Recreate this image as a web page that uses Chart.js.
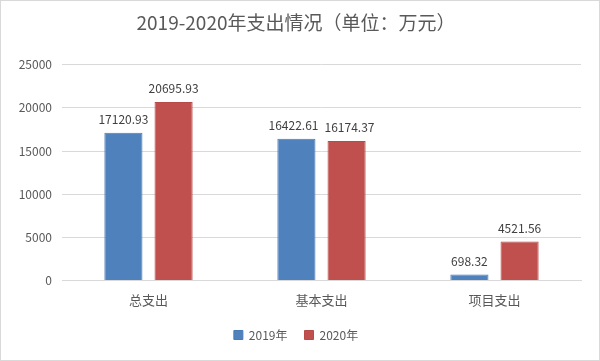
<!DOCTYPE html>
<html>
<head>
<meta charset="utf-8">
<script src="https://cdn.jsdelivr.net/npm/chart.js@4"></script>
<style>
  html, body { margin: 0; padding: 0; background: #fff; }
  #wrap { width: 598px; height: 359px; border: 1px solid #d9d9d9; position: relative; }
</style>
</head>
<body>
<div id="wrap"><canvas id="chart" width="598" height="359"></canvas></div>
<script>
const categories = ["总支出", "基本支出", "项目支出"];
const values2019 = [17120.93, 16422.61, 698.32];
const values2020 = [20695.93, 16174.37, 4521.56];
const seriesNames = ["2019年", "2020年"];
const yTicks = [0, 5000, 10000, 15000, 20000, 25000];

const fontFamily = "'Noto Sans CJK SC', 'Noto Sans', sans-serif";

// value labels above bars, pushed apart a little if two in a group overlap
const valueLabels = {
  id: "valueLabels",
  afterDatasetsDraw(chart) {
    const ctx = chart.ctx;
    ctx.save();
    ctx.font = "12px " + fontFamily;
    ctx.fillStyle = "#404040";
    ctx.textAlign = "center";
    ctx.textBaseline = "bottom";
    const m0 = chart.getDatasetMeta(0).data;
    const m1 = chart.getDatasetMeta(1).data;
    categories.forEach((c, j) => {
      const t0 = values2019[j].toFixed(2), t1 = values2020[j].toFixed(2);
      let x0 = m0[j].x, x1 = m1[j].x;
      const need = (ctx.measureText(t0).width + ctx.measureText(t1).width) / 2 + 6;
      if (Math.abs(m0[j].y - m1[j].y) < 16 && x1 - x0 < need) {
        const d = (need - (x1 - x0)) / 2;
        x0 -= d; x1 += d;
      }
      ctx.fillText(t0, x0, m0[j].y - 7);
      ctx.fillText(t1, x1, m1[j].y - 7);
    });
    ctx.restore();
  }
};

new Chart(document.getElementById("chart").getContext("2d"), {
  type: "bar",
  data: {
    labels: categories,
    datasets: [
      { label: seriesNames[0], data: values2019, backgroundColor: "#4f81bd", borderColor: "#4a7ab5", borderWidth: 1 },
      { label: seriesNames[1], data: values2020, backgroundColor: "#c0504d", borderColor: "#b84b48", borderWidth: 1 }
    ]
  },
  options: {
    responsive: false,
    animation: false,
    layout: { padding: { left: 10, right: 18, top: 4, bottom: 9 } },
    datasets: { bar: { categoryPercentage: 0.58, barPercentage: 0.76 } },
    plugins: {
      title: {
        display: true,
        text: "2019-2020年支出情况（单位：万元）",
        color: "#595959",
        font: { family: fontFamily, size: 19, weight: "normal" },
        padding: { top: 6, bottom: 31 }
      },
      legend: {
        position: "bottom",
        labels: {
          color: "#595959",
          font: { family: fontFamily, size: 12 },
          boxWidth: 9,
          boxHeight: 9,
          padding: 17
        }
      },
      tooltip: { enabled: false }
    },
    scales: {
      x: {
        grid: { display: false },
        border: { color: "#d9d9d9" },
        ticks: { color: "#595959", font: { family: fontFamily, size: 13 }, padding: 4 }
      },
      y: {
        min: 0,
        max: 25000,
        afterFit(scale) { scale.width = 51; },
        afterBuildTicks(scale) { scale.ticks = yTicks.map(v => ({ value: v })); },
        grid: { color: "#d9d9d9", drawTicks: false },
        border: { display: false },
        ticks: { color: "#595959", font: { family: fontFamily, size: 12 }, padding: 10, callback: v => String(v) }
      }
    }
  },
  plugins: [valueLabels]
});
</script>
</body>
</html>
